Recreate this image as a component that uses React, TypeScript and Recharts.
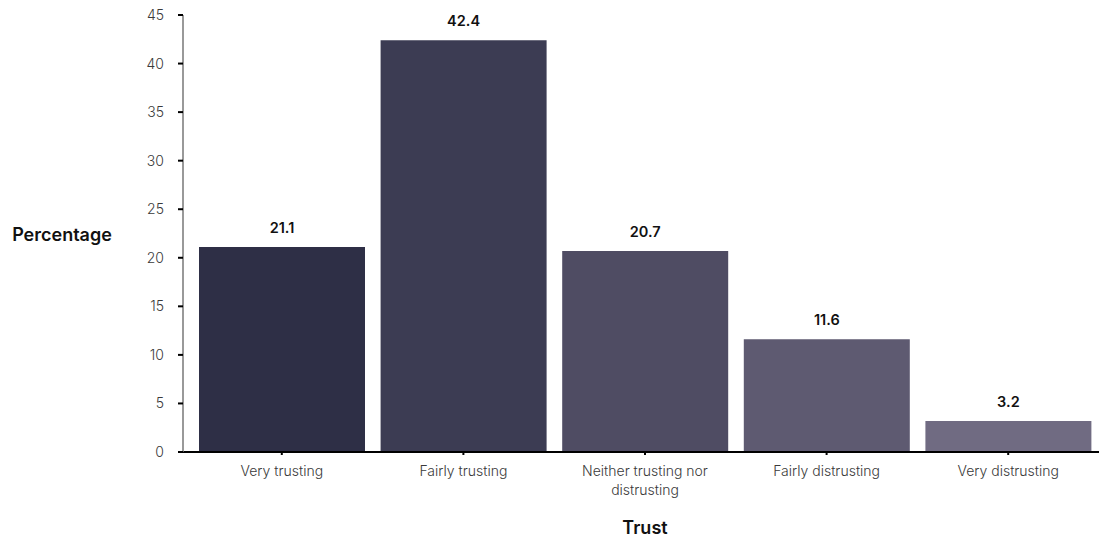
import { BarChart, Bar, XAxis, YAxis, Cell, LabelList, Text } from "recharts";

const CATEGORIES = [
	"Very trusting",
	"Fairly trusting",
	"Neither trusting nor distrusting",
	"Fairly distrusting",
	"Very distrusting",
];
const PERCENTAGES = [21.1, 42.4, 20.7, 11.6, 3.2];
const Y_TICKS = [0, 5, 10, 15, 20, 25, 30, 35, 40, 45];
const COLORS = ["#2e2f46", "#3c3c53", "#4f4c63", "#5e5a71", "#706b82"];

const FONT = "Inter, 'Noto Sans', sans-serif";

const data = CATEGORIES.map((name, i) => ({ name, value: PERCENTAGES[i] }));

const XTick = ({ x, y, payload }: any) => (
	<Text
		x={x}
		y={y + 9}
		width={160}
		textAnchor='middle'
		verticalAnchor='start'
		lineHeight={19}
		fontSize={14}
		fontFamily={FONT}
		fontWeight={300}
		fill='#3a3a3a'
	>
		{payload.value}
	</Text>
);

const YLabel = () => (
	<text
		x={62}
		y={234}
		textAnchor='middle'
		dominantBaseline='central'
		fontSize={18}
		fontWeight={600}
		fontFamily={FONT}
		fill='#111'
	>
		Percentage
	</text>
);

const XLabel = () => (
	<text
		x={645}
		y={527}
		textAnchor='middle'
		dominantBaseline='central'
		fontSize={18}
		fontWeight={600}
		fontFamily={FONT}
		fill='#111'
	>
		Trust
	</text>
);

const App = () => {
	return (
		<div style={{ position: "absolute", left: 0, top: 0 }}>
			<BarChart
				width={1101}
				height={540}
				data={data}
				margin={{ top: 15, right: 2, bottom: 0, left: 0 }}
				barCategoryGap={8}
			>
				<XAxis
					dataKey='name'
					interval={0}
					height={88}
					padding={{ left: 8, right: 0 }}
					axisLine={{ stroke: "#000", strokeWidth: 2 }}
					tickLine={{ stroke: "#000", strokeWidth: 2 }}
					tickSize={3}
					tick={<XTick />}
					label={<XLabel />}
				/>
				<YAxis
					width={183}
					domain={[0, 45]}
					ticks={Y_TICKS}
					interval={0}
					axisLine={{ stroke: "#777", strokeWidth: 1.5 }}
					tickLine={{ stroke: "#000", strokeWidth: 2 }}
					tickSize={5}
					tickMargin={14}
					tick={{ fontSize: 14, fontFamily: FONT, fontWeight: 300, fill: "#3a3a3a" }}
					label={<YLabel />}
				/>
				<Bar dataKey='value' isAnimationActive={false}>
					{data.map((_, index) => (
						<Cell key={`cell-${index}`} fill={COLORS[index]} />
					))}
					<LabelList
						dataKey='value'
						position='top'
						offset={14}
						fontSize={14.5}
						fontWeight={600}
						fontFamily={FONT}
						fill='#111'
					/>
				</Bar>
			</BarChart>
		</div>
	);
};

export default App;
